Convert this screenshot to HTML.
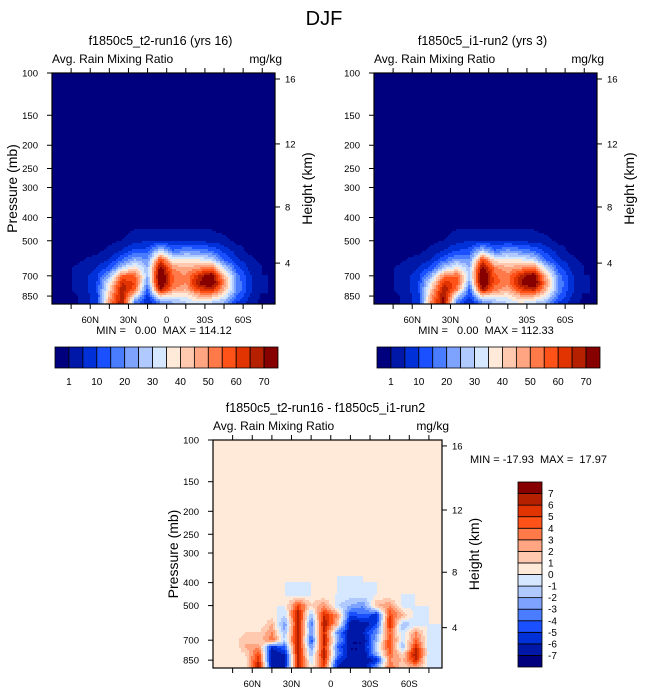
<!DOCTYPE html>
<html><head><meta charset="utf-8"><style>
body{margin:0;background:#fff;}
svg{display:block;font-family:"Liberation Sans",sans-serif;}
text{white-space:pre;}
</style></head><body>
<svg id="fig" width="648" height="694" xmlns="http://www.w3.org/2000/svg" xml:space="preserve">
<text x="324" y="25" font-size="20" text-anchor="middle">DJF</text>
</svg>
<script>
// ---------- data ----------
const lats = [85,75,65,55,45,35,25,15,5,-5,-15,-25,-35,-45,-55,-65,-75,-85];
const levelsA = [450,500,550,600,650,700,750,800,850,900];
const run16 = [
[0,0,0,0,0,0,1,1,1,1,1,1,1,0,0,0,0,0],
[0,0,0,0,0,1,3,5,5,5,5,4,3,2,0,0,0,0],
[0,0,0,0,2,5,12,12,30,15,20,18,15,8,3,0,0,0],
[0,0,1,2,5,15,25,20,60,35,35,35,30,15,6,2,0,0],
[0,1,2,5,12,30,40,25,75,50,45,50,55,30,12,4,1,0],
[0,1,3,8,25,55,55,25,80,55,50,65,75,45,18,6,1,0],
[0,1,3,10,35,65,60,20,80,55,50,70,80,50,20,6,1,null],
[0,1,3,10,40,70,55,12,70,50,45,60,65,45,20,6,1,null],
[0,0,2,8,45,70,35,8,40,35,35,45,45,35,15,5,0,null],
[0,0,2,8,50,70,20,5,20,25,30,35,30,25,10,3,0,null]];
const run2 = [
[0,0,0,0,0,0,1,1,1,1,1,1,1,0,0,0,0,0],
[0,0,0,0,0,1,3,5,5,5,5,4,3,2,0,0,0,0],
[0,0,0,0,2,5,10,12,28,15,22,18,15,8,3,0,0,0],
[0,0,1,2,5,14,22,20,60,36,36,35,30,15,6,2,0,0],
[0,1,2,5,12,28,38,26,75,52,46,50,55,30,12,4,1,0],
[0,1,3,8,25,52,55,27,80,56,52,66,75,44,18,6,1,0],
[0,1,3,10,36,64,58,22,80,57,52,70,80,50,20,6,1,null],
[0,1,3,10,42,70,52,13,70,52,46,60,66,45,19,6,1,null],
[0,0,2,8,48,72,32,9,40,37,36,46,46,35,15,5,0,null],
[0,0,2,8,52,72,18,5,20,26,31,36,31,25,10,3,0,null]];
const levelsD = [400,450,500,550,600,650,700,750,800,850,900];
const diff = [
[0,0,0,0,0,0,0,0,0,0,-0.5,0,0,0,0,0,0,0],
[0,0,0,0,0,0,-0.5,0,0,0,-0.5,-0.5,0,0,0,0,0,0],
[0,0,0,0,0,0,5,1,3,-1,-2,-3,2,3,-0.5,0,0,0],
[0,0,0,0,0.5,-1,7,-2,6,3,-5,-4,-6,5,2,-0.5,0,0],
[0,0,0,0,2,-3,7,-4,7,2,-7,-7,-5,6,-2,-0.5,0,0],
[0,0,1,1,3,-2,7,-3,6,-3,-7,-6,-3,4,-1,3,-0.5,0],
[0,0,2,1,4,-1,7,-5,7,-2,-7,-7,-2,5,-1,4,-0.5,0],
[0,0,2,3,-6,-4,7,-3,6,-4,-7,-7,-1,5,-2,6,-0.5,0],
[0,0,1,5,-7,-6,7,-2,7,-3,-7,-7,-2,4,1,7,-0.5,0],
[0,0,0.5,6,-7,-7,7,-1,6,-5,-7,-7,-6,3,2,6,-1,0],
[0,0,0,7,-7,-6,7,0,5,-6,-7,-7,-3,4,1,3,-0.5,0]];
const contA = [1,5,10,15,20,25,30,35,40,45,50,55,60,65,70];
const contD = [-7,-6,-5,-4,-3,-2,-1,0,1,2,3,4,5,6,7];
const labA = ["1","10","20","30","40","50","60","70"];
const labD = ["-7","-6","-5","-4","-3","-2","-1","0","1","2","3","4","5","6","7"];
const pTicks = [100,150,200,250,300,400,500,700,850];
const kmTicks = [16,12,8,4];
const kmFrac = [0.026,0.307,0.58,0.823];
const latTicks = [60,30,0,-30,-60];
const latLabels = ["60N","30N","0","30S","60S"];
const colors = ["#00007f","#0018a8","#0030d8","#1a50ff","#4a7cff","#7ea3ff","#b0c9ff","#d6e8ff","#ffe9d9","#ffc9b0","#ffa582","#ff7a48","#ff5218","#e23400","#b52100","#870000"];
// ---------- drawing ----------
const NS="http://www.w3.org/2000/svg";
const svg=document.getElementById('fig');
function el(tag,attrs,parent){const e=document.createElementNS(NS,tag);for(const k in attrs)e.setAttribute(k,attrs[k]);(parent||svg).appendChild(e);return e;}
function txt(x,y,s,size,anchor,parent,rot){const t=el('text',{x:x,y:y,'font-size':size,'text-anchor':anchor||'start'},parent);if(rot)t.setAttribute('transform','rotate(-90 '+x+' '+y+')');t.textContent=s;return t;}
function colorIdx(v,cont){let i=0;for(const c of cont)if(v>=c)i++;return i;}
function sample(data,levels,fi,p){
  const lp=Math.log(p);const L=levels.map(Math.log);
  let r0,r1,t;
  const top=Math.log(levels[0]*0.93);
  if(lp<top) return 'bg';
  if(lp<L[0]){r0=-1;r1=0;t=(lp-top)/(L[0]-top);}
  else if(lp>=L[L.length-1]){r0=r1=L.length-1;t=0;}
  else{for(let i=0;i<L.length-1;i++)if(lp>=L[i]&&lp<L[i+1]){r0=i;r1=i+1;t=(lp-L[i])/(L[i+1]-L[i]);break;}}
  const c0=Math.max(0,Math.min(17,Math.floor(fi))),c1=Math.min(17,c0+1),s=Math.max(0,Math.min(1,fi-c0));
  function g(r,c){if(r<0)return 0;return data[r][c];}
  const a=g(r0,c0),b=g(r0,c1),c=g(r1,c0),d=g(r1,c1);
  const near=[[a,(1-s)*(1-t)],[b,s*(1-t)],[c,(1-s)*t],[d,s*t]];
  if(a===null||b===null||c===null||d===null){near.sort((x,y)=>y[1]-x[1]);return near[0][0];}
  return a*(1-s)*(1-t)+b*s*(1-t)+c*(1-s)*t+d*s*t;
}
function panel(o){
  const g=el('g',{},svg);
  
  
  const W=o.x1-o.x0,H=o.y1-o.y0;
  const yOfP=p=>o.y0+240*(Math.log10(p)-2)*(H/231);
  const pOfY=y=>Math.pow(10,2+(y-o.y0)/(240*(H/231)));
  const xOfLat=lat=>o.x0+(90-lat)*W/175;
  el('rect',{x:o.x0,y:o.y0,width:W,height:H,fill:colors[o.bgIdx]},g);
  const hm=el('g',{},g);
  
  
  const step=2;
  for(let y=o.y0;y<o.y1;y+=step){
    const p=pOfY(y+step/2);
    let runStart=o.x0,runCol=null;
    for(let x=o.x0;x<=o.x1;x+=step){
      let col=null;
      if(x<o.x1){
        const lat=90-(x+step/2-o.x0)*175/W;
        const fi=(85-lat)/10;
        const v=sample(o.data,o.levels,fi,p);
        col = v==='bg'?colors[o.bgIdx]:(v===null?'#ffffff':colors[colorIdx(v,o.cont)]);
      }
      if(col!==runCol){
        if(runCol!==null && runCol!==colors[o.bgIdx]){
          const r=el('rect',{x:runStart,y:y,width:Math.min(x,o.x1)-runStart,height:Math.min(step,o.y1-y)+0.3,fill:runCol},hm);
          
          
        }
        runStart=x;runCol=col;
      }
    }
  }
  el('rect',{x:o.x0,y:o.y0,width:W,height:H,fill:'none',stroke:'#000','stroke-width':1.2},g);
  pTicks.forEach(p=>{const y=yOfP(p);el('line',{x1:o.x0-5,x2:o.x0,y1:y,y2:y,stroke:'#000'},g);
    const t=txt(o.x0-14,y+3.5,String(p),9.5,'end',g);});
  kmTicks.forEach((k,i)=>{const y=o.y0+kmFrac[i]*H;el('line',{x1:o.x1,x2:o.x1+5,y1:y,y2:y,stroke:'#000'},g);
    const t=txt(o.x1+10,y+3.5,String(k),9.5,'start',g);});
  for(let lat=75;lat>=-75;lat-=15){const x=xOfLat(lat);
    el('line',{x1:x,x2:x,y1:o.y1,y2:o.y1+5,stroke:'#000'},g);
    el('line',{x1:x,x2:x,y1:o.y0,y2:o.y0-5,stroke:'#000'},g);}
  latTicks.forEach((l,i)=>{const t=txt(xOfLat(l),o.y1+19,latLabels[i],9.5,'middle',g);});
  let t=txt(o.x0,o.y0-10,'Avg. Rain Mixing Ratio',12,'start',g);
  t=txt(o.x1+7,o.y0-10,'mg/kg',12,'end',g);
  t=txt((o.x0+o.x1)/2+o.tdx,o.y0-28,o.title,12.5,'middle',g);
  if(o.plabel){t=txt(o.x0-35,(o.y0+o.y1)/2,'Pressure (mb)',14,'middle',g,true);}
  t=txt(o.x1+37,(o.y0+o.y1)/2,'Height (km)',14,'middle',g,true);
  return g;
}
function hbar(x0,y0,w,h,name){
  const g=el('g',{},svg);
  const bw=w/16;
  colors.forEach((c,i)=>{const r=el('rect',{x:x0+i*bw,y:y0,width:bw,height:h,fill:c,stroke:'#000','stroke-width':0.8},g);
    });
  labA.forEach((s,i)=>{const k=i===0?0:2*i;const t=txt(x0+(k+1)*bw,y0+h+17,s,10,'middle',g);});
}
panel({name:'panel-run16',x0:52,x1:275,y0:73,y1:304,data:run16,levels:levelsA,cont:contA,bgIdx:0,title:'f1850c5_t2-run16 (yrs 16)',plabel:true,tdx:-3});
panel({name:'panel-run2',x0:374,x1:597,y0:73,y1:304,data:run2,levels:levelsA,cont:contA,bgIdx:0,title:'f1850c5_i1-run2 (yrs 3)',plabel:false,tdx:-3});
panel({name:'panel-difference',x0:213,x1:442,y0:440,y1:668,data:diff,levels:levelsD,cont:contD,bgIdx:8,title:'f1850c5_t2-run16 - f1850c5_i1-run2',plabel:true,tdx:-2});
let t;
t=txt(164,334,'MIN =   0.00  MAX = 114.12',11,'middle');
t=txt(486,334,'MIN =   0.00  MAX = 112.33',11,'middle');
t=txt(470,463,'MIN = -17.93  MAX =  17.97',11,'start');
hbar(55,347,223,21,'colorbar-run16');
hbar(377,347,223,21,'colorbar-run2');
(function(){const g=el('g',{},svg);
  const x0=518,y0=482,w=24,h=185,bh=h/16;
  colors.forEach((c,i)=>{const r=el('rect',{x:x0,y:y0+h-(i+1)*bh,width:w,height:bh,fill:c,stroke:'#000','stroke-width':0.8},g);
    });
  labD.forEach((s,i)=>{const t=txt(x0+w+6,y0+h-(i+1)*bh+3.5,s,10,'start',g);});
})();
</script>
</body></html>
